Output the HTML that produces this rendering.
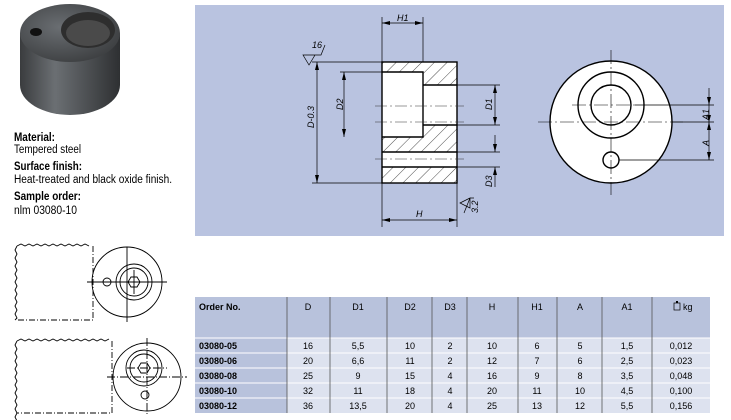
<!DOCTYPE html>
<html><head><meta charset="utf-8"><style>
html,body{margin:0;padding:0;background:#fff;width:731px;height:420px;overflow:hidden}
svg{display:block}
text{font-family:"Liberation Sans",sans-serif}
</style></head><body>
<svg width="731" height="420" viewBox="0 0 731 420" xmlns="http://www.w3.org/2000/svg">
<defs>
<pattern id="h" patternUnits="userSpaceOnUse" width="9" height="9" patternTransform="rotate(45)">
<line x1="0" y1="0" x2="0" y2="9" stroke="#000" stroke-width="0.7"/>
</pattern>
<radialGradient id="g1" cx="0.4" cy="0.4" r="0.7"><stop offset="0" stop-color="#6a6e72"/><stop offset="1" stop-color="#3a3c3e"/></radialGradient>
<linearGradient id="g2" x1="0" x2="1"><stop offset="0" stop-color="#3a3c3e"/><stop offset="0.35" stop-color="#6b6f73"/><stop offset="1" stop-color="#2e3032"/></linearGradient>
</defs>

<!-- photo -->
<path d="M20 33 L20 85 A50 30 0 0 0 120 85 L120 33 Z" fill="url(#g2)"/>
<ellipse cx="70" cy="33" rx="50" ry="29" fill="url(#g1)"/>
<ellipse cx="88" cy="30" rx="27" ry="18" fill="#2e2e2e"/>
<ellipse cx="88" cy="33" rx="22" ry="13" fill="#4a4a4a"/>
<ellipse cx="36" cy="32" rx="6" ry="4" fill="#111"/>

<!-- left text -->
<g font-size="11.5" fill="#000">
<text x="14" y="141" font-weight="bold" textLength="41" lengthAdjust="spacingAndGlyphs">Material:</text>
<text x="14" y="153" textLength="67" lengthAdjust="spacingAndGlyphs">Tempered steel</text>
<text x="14" y="170" font-weight="bold" textLength="68" lengthAdjust="spacingAndGlyphs">Surface finish:</text>
<text x="14" y="183" textLength="158" lengthAdjust="spacingAndGlyphs">Heat-treated and black oxide finish.</text>
<text x="14" y="200" font-weight="bold" textLength="67" lengthAdjust="spacingAndGlyphs">Sample order:</text>
<text x="14" y="214" textLength="63" lengthAdjust="spacingAndGlyphs">nlm 03080-10</text>
</g>

<!-- mini drawings -->
<g fill="none" stroke="#000" stroke-width="0.9">
<path d="M17 246 l4 -2 l4 2 l4 -2 l4 2 l4 -2 l4 2 l4 -2 l4 2 l4 -2 l4 2 l4 -2 l4 2 l4 -2 l4 2 l4 -2 l4 2 l4 -2 l4 2"/>
<path d="M17 246 l-2 4 l2 4 l-2 4 l2 4 l-2 4 l2 4 l-2 4 l2 4 l-2 4 l2 4 l-2 4 l2 4 l-2 4 l2 4 l-2 4 l2 4 l-2 4 l2 4 l-2 2"/>
<path d="M93 246 V320 H17" stroke-dasharray="6 2 1 2"/>
<circle cx="127" cy="282" r="35"/><circle cx="134" cy="282" r="18"/><circle cx="134" cy="282" r="14"/>
<polygon points="140,282 137,287 131,287 128,282 131,277 137,277"/>
<circle cx="107" cy="282" r="4"/>
<path d="M87 282 H167 M127 247 V322 M124 282 H144 M134 270 V294"/>

<path d="M17 341 l4 -2 l4 2 l4 -2 l4 2 l4 -2 l4 2 l4 -2 l4 2 l4 -2 l4 2 l4 -2 l4 2 l4 -2 l4 2 l4 -2 l4 2 l4 -2 l4 2 l4 -2 l4 2 l4 -2 l4 2 l4 -2"/>
<path d="M17 341 l-2 4 l2 4 l-2 4 l2 4 l-2 4 l2 4 l-2 4 l2 4 l-2 4 l2 4 l-2 4 l2 4 l-2 4 l2 4 l-2 4 l2 4 l-2 4 l2 4 l-2 4 l2 4 l-2 3"/>
<path d="M112 341 V413 H17" stroke-dasharray="6 2 1 2"/>
<circle cx="147" cy="377" r="34"/><circle cx="144" cy="368" r="18"/><circle cx="144" cy="368" r="14"/>
<polygon points="150,368 147,373 141,373 138,368 141,363 147,363"/>
<circle cx="145" cy="395" r="4"/>
<path d="M107 377 H187 M147 338 V416 M127 368 H167" stroke-dasharray="8 2 1 2"/>
</g>

<!-- panel -->
<rect x="195" y="5" width="529" height="231" fill="#b9c3e0"/>
<g stroke="#000" fill="none">
<rect x="382" y="62" width="75" height="121" fill="#fff" stroke="none"/>
<path d="M382 62 H457 V85 H423 V72 H382 Z" fill="url(#h)" stroke="none"/>
<path d="M382 137 H423 V125 H457 V152 H382 Z" fill="url(#h)" stroke="none"/>
<rect x="382" y="167" width="75" height="16" fill="url(#h)" stroke="none"/>
<rect x="382" y="62" width="75" height="121" stroke-width="1.4"/>
<path d="M382 72 H423 V137 H382 M423 85 H457 M423 125 H457 M382 152 H457 M382 167 H457" stroke-width="1.4"/>
<path d="M375 106 H464 M375 122 H464 M375 159 H464" stroke-width="0.6" stroke="#333" stroke-dasharray="12 3 2 3"/>
<g stroke-width="0.7">
<path d="M312 62 H382 M340 72 H382 M312 183 H382 M457 85 H500 M457 125 H500 M457 152 H500 M457 167 H500"/>
<path d="M382 17 V227 M423 17 V62 M457 183 V227"/>
<path d="M317 62 V183 M344 72 V137 M495 85 V125 M495 135 V152 M495 167 V187"/>
<path d="M382 23 H423 M382 220 H457"/>
<path d="M303 55 l6 10 l6 -10 Z M306 55 H321 L325 45"/>
<path d="M460 203 l10 -5 v10 Z M464 213 L470 198 H474"/>
</g>
<g fill="#000" stroke="none">
<path d="M317 62 l-2 8 h4Z M317 183 l-2 -8 h4Z M344 72 l-2 8 h4Z M344 137 l-2 -8 h4Z M495 85 l-2 8 h4Z M495 125 l-2 -8 h4Z M495 152 l-2 -8 h4Z M495 167 l-2 8 h4Z"/>
<path d="M382 23 l8 -2 v4Z M423 23 l-8 -2 v4Z M382 220 l8 -2 v4Z M457 220 l-8 -2 v4Z"/>
</g>
<circle cx="611" cy="122" r="61" fill="#fff" stroke-width="1.4"/>
<circle cx="611" cy="105" r="33" stroke-width="1.4"/>
<circle cx="611" cy="105" r="20" stroke-width="1.4"/>
<circle cx="611" cy="160" r="8" stroke-width="1.4"/>
<path d="M611 50 V195 M538 122 H683 M572 105 H635" stroke-width="0.6" stroke-dasharray="14 3 2 3"/>
<g stroke-width="0.7"><path d="M635 105 H714 M672 122 H714 M619 160 H714 M709 88 V160"/></g>
<g fill="#000" stroke="none"><path d="M709 105 l-2 -8 h4Z M709 122 l-2 8 h4Z M709 122 l-2 -7 h4Z M709 160 l-2 -8 h4Z"/></g>
</g>
<g font-size="9" font-style="italic" fill="#000">
<text x="397" y="21">H1</text>
<text x="416" y="217">H</text>
<text x="312" y="48">16</text>
<text transform="translate(314,128) rotate(-90)">D-0.3</text>
<text transform="translate(343,110) rotate(-90)">D2</text>
<text transform="translate(492,110) rotate(-90)">D1</text>
<text transform="translate(492,187) rotate(-90)">D3</text>
<text transform="translate(478,213) rotate(-90)">3.2</text>
<text transform="translate(709,120) rotate(-90)">A1</text>
<text transform="translate(709,146) rotate(-90)">A</text>
</g>

<!-- table -->
<g font-size="9" fill="#000">
<rect x="195" y="297" width="515" height="41" fill="#b8c2dc"/>
<rect x="195" y="338" width="92" height="75" fill="#b8c2dc"/>
<rect x="287" y="338" width="423" height="75" fill="#dde2ef"/>
<g stroke="#fff" stroke-width="1">
<path d="M195 338 H710 M195 353 H710 M195 368 H710 M195 383 H710 M195 398 H710"/>
</g>
<g stroke="#555" stroke-width="0.8">
<path d="M287 297 V413 M330 297 V413 M387 297 V413 M432 297 V413 M467 297 V413 M518 297 V413 M557 297 V413 M602 297 V413 M652 297 V413"/>
</g>
<rect x="674" y="303" width="6" height="7" fill="none" stroke="#000" stroke-width="0.7"/>
<rect x="676" y="301" width="2" height="2" fill="#000"/>
<g font-weight="bold">
<text x="199" y="310">Order No.</text>
<text x="199" y="349">03080-05</text><text x="199" y="364">03080-06</text><text x="199" y="379">03080-08</text><text x="199" y="394">03080-10</text><text x="199" y="409">03080-12</text>
</g>
<text x="683" y="310">kg</text>
<g text-anchor="middle">
<text x="308" y="310">D</text><text x="358" y="310">D1</text><text x="410" y="310">D2</text><text x="450" y="310">D3</text><text x="492" y="310">H</text><text x="537" y="310">H1</text><text x="580" y="310">A</text><text x="627" y="310">A1</text>
<text x="308" y="349">16</text><text x="358" y="349">5,5</text><text x="410" y="349">10</text><text x="450" y="349">2</text><text x="492" y="349">10</text><text x="537" y="349">6</text><text x="580" y="349">5</text><text x="627" y="349">1,5</text><text x="681" y="349">0,012</text>
<text x="308" y="364">20</text><text x="358" y="364">6,6</text><text x="410" y="364">11</text><text x="450" y="364">2</text><text x="492" y="364">12</text><text x="537" y="364">7</text><text x="580" y="364">6</text><text x="627" y="364">2,5</text><text x="681" y="364">0,023</text>
<text x="308" y="379">25</text><text x="358" y="379">9</text><text x="410" y="379">15</text><text x="450" y="379">4</text><text x="492" y="379">16</text><text x="537" y="379">9</text><text x="580" y="379">8</text><text x="627" y="379">3,5</text><text x="681" y="379">0,048</text>
<text x="308" y="394">32</text><text x="358" y="394">11</text><text x="410" y="394">18</text><text x="450" y="394">4</text><text x="492" y="394">20</text><text x="537" y="394">11</text><text x="580" y="394">10</text><text x="627" y="394">4,5</text><text x="681" y="394">0,100</text>
<text x="308" y="409">36</text><text x="358" y="409">13,5</text><text x="410" y="409">20</text><text x="450" y="409">4</text><text x="492" y="409">25</text><text x="537" y="409">13</text><text x="580" y="409">12</text><text x="627" y="409">5,5</text><text x="681" y="409">0,156</text>
</g>
</g>
</svg>
</body></html>
